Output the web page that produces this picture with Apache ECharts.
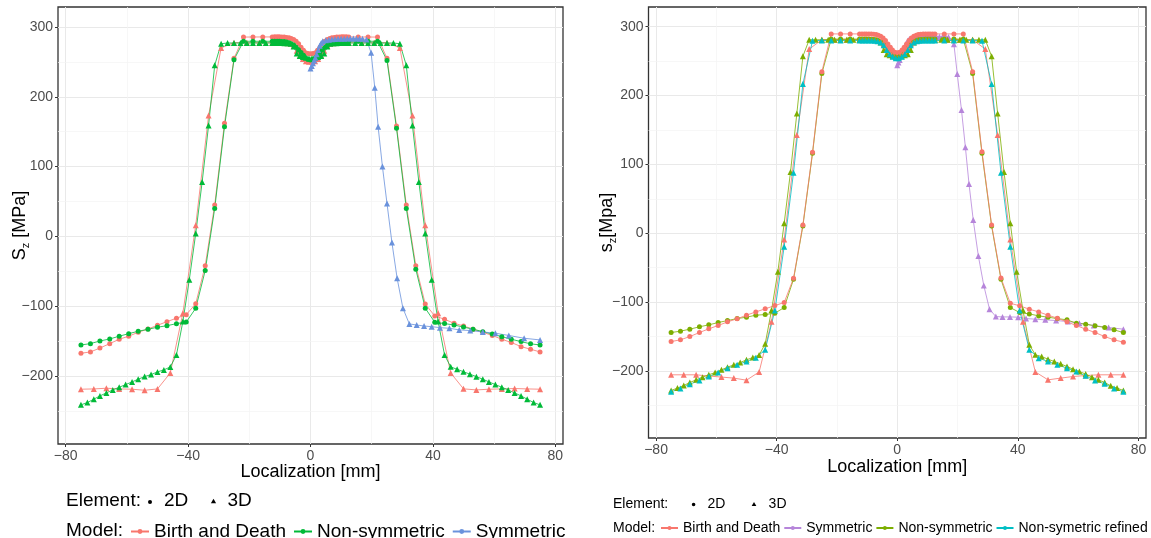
<!DOCTYPE html>
<html><head><meta charset="utf-8">
<script src="https://cdn.jsdelivr.net/npm/echarts@6/dist/echarts.min.js"></script>
<style>html,body{margin:0;padding:0;background:#fff}#c{width:1151px;height:538px}</style>
</head><body><div id="c"></div>
<script>
// ---------- shared x positions ----------
const x2D = [-75,-71.9,-68.8,-65.6,-62.5,-59.4,-56.3,-53.1,-50,-46.9,-43.8,-40.6,-37.5,-34.4,-31.3,-28.1,-25,-21.9,-18.8,-15.6,-12.5,
  -11.7,-10.9,-10.2,-9.4,-8.6,-7.8,-7,-6.3,-5.5,-4.7,-3.9,-3.1,-2.3,-1.6,-0.8,0,0.8,1.6,2.3,3.1,3.9,4.7,5.5,6.3,7,7.8,8.6,9.4,10.2,10.9,11.7,
  12.5,15.6,18.8,21.9,25,28.1,31.3,34.4,37.5,40.6,43.8,46.9,50,53.1,56.3,59.4,62.5,65.6,68.8,71.9,75];
const xBD3D = [-75,-70.8,-66.7,-62.5,-58.3,-54.2,-50,-45.8,-41.7,-37.5,-33.3,-29.2,-25,-20.8,-16.7,-12.5,
  -11.5,-10.5,-9.5,-8.5,-7.5,-6.5,-5.5,-4.5,-3.5,-2.5,-1.5,-0.5,0.5,1.5,2.5,3.5,4.5,5.5,6.5,7.5,8.5,9.5,10.5,11.5,
  12.5,16.7,20.8,25,29.2,33.3,37.5,41.7,45.8,50,54.2,58.3,62.5,66.7,70.8,75];
const xNS3D = [-75,-72.9,-70.8,-68.8,-66.7,-64.6,-62.5,-60.4,-58.3,-56.3,-54.2,-52.1,-50,-47.9,-45.8,-43.8,-41.7,-39.6,-37.5,-35.4,-33.3,-31.3,-29.2,-27.1,-25,-22.9,-20.8,-18.8,-16.7,-14.6,-12.5,
  -11.5,-10.5,-9.5,-8.5,-7.5,-6.5,-5.5,-4.5,-3.5,-2.5,-1.5,-0.5,0.5,1.5,2.5,3.5,4.5,5.5,6.5,7.5,8.5,9.5,10.5,11.5,
  12.5,14.6,16.7,18.8,20.8,22.9,25,27.1,29.2,31.3,33.3,35.4,37.5,39.6,41.7,43.8,45.8,47.9,50,52.1,54.2,56.3,58.3,60.4,62.5,64.6,66.7,68.8,70.8,72.9,75];
const xRef3D = [-75,-71.9,-68.8,-65.6,-62.5,-59.4,-56.3,-53.1,-50,-46.9,-43.8,-40.6,-37.5,-34.4,-31.3,-28.1,-25,-21.9,-18.8,-15.6,-12.5,
  -11.5,-10.5,-9.5,-8.5,-7.5,-6.5,-5.5,-4.5,-3.5,-2.5,-1.5,-0.5,0.5,1.5,2.5,3.5,4.5,5.5,6.5,7.5,8.5,9.5,10.5,11.5,
  12.5,15.6,18.8,21.9,25,28.1,31.3,34.4,37.5,40.6,43.8,46.9,50,53.1,56.3,59.4,62.5,65.6,68.8,71.9,75];
const xSymL = [0,0.4,0.8,1.2,1.6,2,2.5,3,3.5,4,5,6,7,8,9,10,11,12,13,14,15,16,17,18.3,19.8,21,22.1,23.5,25,26.6,28.3,30.2,32.3,34.7,37.1,39.6,42.3,45.4,48.6,52.2,56.3,60.4,64.8,69.8,75];
const xSymR = [0,0.4,0.8,1.2,1.6,2,2.5,3,3.5,4,5,6,7,8,9,10,11,12,13,14,15,16,17,18.8,19.9,21.3,22.6,23.8,25.2,26.9,28.7,30.6,32.7,34.9,37.4,40.1,42.7,45.8,49.1,52.7,56.6,60.4,65.2,70.1,75];

// ---------- left panel values ----------
const L_BD2D = [-167.5,-165.6,-160,-153.7,-147.4,-143.1,-137.4,-132.7,-127.4,-122.2,-117.3,-112.2,-96.5,
  -42,45,162,255,285.5,285.6,285.7,285.7,
  285.8,285.8,285.8,285.7,285.5,285,284.5,283.5,282,279.5,276,271,266.5,263,261.8,261.5,
  261.8,263,266.5,271,276,279.5,282,283.5,284.5,285,285.5,285.7,285.8,285.8,285.8,285.7,
  285.7,285.6,285.5,255,158,45,-42,-97,-114,-118.8,-124.5,-128.4,-133,-137.5,-142,-147.4,-152,-158,-161.7,-165.6];
const L_NS2D = [-155.6,-153.7,-149.9,-147,-143.1,-139.4,-136,-133.1,-130.2,-128,-125.1,-122.8,-103,
  -49,40,157,253,279.5,279.5,279.5,279.5,
  279.5,279.5,279.5,279.3,279,278.5,277.5,276,274,271,267.5,263.5,259.5,256,253.5,252.5,
  253.5,256,259.5,263.5,267.5,271,274,276,277.5,278.5,279,279.3,279.5,279.5,279.5,279.5,
  279.5,279.5,279.5,252,155,40,-47,-103,-123,-125,-127,-130,-133,-136.5,-140,-143.7,-147.4,-150.8,-154,-155.6];
const L_BD3D = [-219,-218.6,-217.6,-218.6,-219,-220.5,-218.6,-195.7,-110,16,173,270,277.5,277.5,277.5,277.5,
  277.5,277.5,277.3,277,276.5,276,273,266,259,254,251,250,
  250,251,254,259,266,273,276,276.5,277,277.3,277.5,277.5,
  277.5,277.5,277.5,277.5,270,173,16,-110,-195.7,-218.5,-220,-219,-218.6,-218,-218.6,-219];
const L_NS3D = [-241.4,-238.1,-233.3,-228.6,-224.3,-220,-216.2,-212.4,-208.5,-204.7,-200.9,-198.1,-194.2,-191.3,-187.1,-170,-122,-62,4,78,159,245,276,277,277,277,277,277,277,277,277,
  277,277,277,276.8,276.5,276,272,262,258.5,257,256,255,
  255,256,257,258.5,262,272,276,276.5,276.8,277,277,277,
  277,277,277,277,277,277,277,277,276,245,159,78,4,-62,-122,-170,-187,-190.5,-194,-197.5,-201,-204.7,-208.5,-212.4,-216.2,-220,-224.3,-228.6,-233.3,-238.1,-241.4];
const L_SYM3D = [240.4,244,248,252,256,261,267,273,277,279.5,
  281,281.8,282.3,282.7,283,283,283.2,283.3,283.3,283.3,283.3,283.2,283,
  282,263,213,157,100,47,-8.7,-60,-103,-125.5,
  -127,-128.5,-129.4,-130.8,-131.7,-134,-135,-137,-138.8,-142,-146,-148.4];

// ---------- right panel values ----------
const R_BD2D = [-157.4,-154.9,-150.1,-144.3,-138.9,-134.1,-128.8,-124.4,-119.1,-114.3,-109.9,-105.1,-100.7,
  -65.4,12,117.5,234.7,289.5,289.5,289.5,289.5,
  289.5,289.5,289.5,289.5,289.3,289,288.5,287.5,286,283.5,280,275,270,266,263,262,
  263,266,270,275,280,283.5,286,287.5,288.5,289,289.3,289.5,289.5,289.5,289.5,289.5,
  289.5,289.5,289.5,234.7,118.5,12,-65,-101.7,-105.5,-110.4,-114.3,-119.1,-123.4,-128.8,-134.1,-139.4,-144.3,-150.1,-154.9,-158.3];
const R_NS2D = [-144.3,-142.3,-139.4,-136,-133.1,-129.8,-126.9,-124,-122,-119.1,-118.2,-116.2,-108,
  -67,10.5,116,232,282,282,282,282,
  282,282,282,282,281.8,281.5,281,280,278.5,276.5,273.5,270,266,262.5,259.5,258.5,
  259.5,262.5,266,270,273.5,276.5,278.5,280,281,281.5,281.8,282,282,282,282,282,
  282,282,282,232,116,10.5,-67,-108,-115.3,-117.2,-120.1,-122,-124,-125.9,-130.7,-132.1,-134.6,-137,-140.4,-144.3];
const R_BD3D = [-205.7,-205.7,-205.7,-207.5,-209,-210.5,-213.5,-201.5,-128.5,-9,142.7,267.5,281,281,281,281,
  281,281,281,281,280.5,280,278.5,275,270,264,259,256.5,
  256.5,259,264,270,275,278.5,280,280.5,281,281,281,281,
  281,281,281,281,267.5,142.7,-9,-128.5,-201.5,-213,-210.5,-208.2,-206.7,-205.7,-205.7,-205.7];
const R_NS3D = [-228.5,-225,-221.3,-216.9,-213,-209.1,-205.7,-202.4,-198.5,-194.6,-191.2,-187.9,-184,-180.6,-177.1,-160.7,-112,-56,14.5,89,174,257,281,281,281,281,281,281,281,281,281,
  281,281,281,281,280.5,280,277,266,260,258.5,257,256,
  256,257,258.5,260,266,277,280,280.5,281,281,281,281,
  281,281,281,281,281,281,281,281,281,257,174,89,14.5,-56,-112,-162,-176.7,-179.2,-183,-186.4,-189.8,-193.7,-197.5,-200.9,-204.7,-209.1,-213,-216.9,-221.7,-225,-228.5];
const R_REF3D = [-230.4,-225.6,-219.3,-214,-208.2,-202.4,-196,-191.2,-186.4,-181,-169.4,-112.4,-19.5,88,216.7,279.7,280,280,280,280,280,
  280,280,280,280,279.5,279,277,273,266,260,256.5,254,
  254,256.5,260,266,273,277,279,279.5,280,280,280,280,
  280,280,280,280,280,279.7,216.7,88,-19.5,-112.4,-169.4,-181.5,-186.4,-191.2,-196,-201,-207.2,-214,-218.8,-225.6,-230.4];
const R_SYM3D = [244,248,251.6,257,262,267,272,276,279.5,282,
  283.5,284.5,285,285.5,285.5,285.5,285.5,285.5,285.5,285.5,285.5,285.3,285,
  274.4,231.3,179,124.9,71.6,19.3,-33,-76,-110.4,-121.1,
  -121.6,-121.6,-122,-124,-124.9,-125.9,-126.9,-128.3,-130.7,-134.1,-137,-139.4];

// ---------- axes / legend labels ----------
const xTicks = [-80,-40,0,40,80];
const yTicks = [-200,-100,0,100,200,300];
const xMinor = [-60,-20,20,60];
const yMinor = [-250,-150,-50,50,150,250];
const modelsL = ['Birth and Death','Non-symmetric','Symmetric'];
const modelsR = ['Birth and Death','Symmetric','Non-symmetric','Non-symetric refined'];

const FONT = '"Liberation Sans", Arial, Helvetica, sans-serif';
const pair = (xs, ys) => xs.map((x, i) => [x, ys[i]]);
const fmt = v => (v < 0 ? '\u2212' + Math.abs(v) : String(v));

function gridMarks() {
  const major = {color: '#e9e9e9', width: 1};
  const minor = {color: '#f3f3f3', width: 0.7};
  const d = [];
  xTicks.forEach(v => d.push({xAxis: v, lineStyle: major}));
  yTicks.forEach(v => d.push({yAxis: v, lineStyle: major}));
  xMinor.forEach(v => d.push({xAxis: v, lineStyle: minor}));
  yMinor.forEach(v => d.push({yAxis: v, lineStyle: minor}));
  return {silent: true, symbol: 'none', z: 1, animation: false, label: {show: false},
          emphasis: {disabled: true}, lineStyle: {type: 'solid'}, data: d};
}

function ser(name, gi, data, color, symbol, size, marks) {
  const s = {
    type: 'line', name: name, xAxisIndex: gi, yAxisIndex: gi, data: data,
    symbol: symbol, symbolSize: size, showSymbol: true, showAllSymbol: true,
    lineStyle: {color: color, width: 0.8}, itemStyle: {color: color, borderWidth: 0},
    emphasis: {disabled: true}, animation: false, z: 2
  };
  if (marks) s.markLine = gridMarks();
  return s;
}

function xAx(gi, gap) {
  return {
    gridIndex: gi, type: 'value', min: -82.5, max: 82.5,
    splitLine: {show: false}, axisLine: {show: false, onZero: false},
    axisTick: {show: true, length: 3, customValues: xTicks, lineStyle: {color: '#333', width: 1}},
    axisLabel: {customValues: xTicks, formatter: fmt, color: '#4d4d4d', fontSize: 14, margin: 5, fontFamily: FONT},
    name: 'Localization [mm]', nameLocation: 'middle', nameGap: gap, nameMoveOverlap: false,
    nameTextStyle: {fontSize: 18, color: '#000', fontFamily: FONT}
  };
}
function yAx(gi, name, gap) {
  return {
    gridIndex: gi, type: 'value', min: -297.5, max: 328.6,
    splitLine: {show: false}, axisLine: {show: false, onZero: false},
    axisTick: {show: true, length: 3, customValues: yTicks, lineStyle: {color: '#333', width: 1}},
    axisLabel: {customValues: yTicks, formatter: fmt, color: '#4d4d4d', fontSize: 14, margin: 5, fontFamily: FONT},
    name: name, nameLocation: 'middle', nameGap: gap, nameMoveOverlap: false,
    nameTextStyle: {color: '#000', fontFamily: FONT,
      rich: {s: {fontSize: 18, fontFamily: FONT, color: '#000', lineHeight: 22},
             z: {fontSize: 11, fontFamily: FONT, color: '#000', lineHeight: 11, verticalAlign: 'bottom'}}}
  };
}

const C = {red: '#F8766D', green: '#00BA38', blue: '#6A92DC', purple: '#B685DA', olive: '#7CAE00', cyan: '#00BFC4'};

const series = [
  ser('L:Birth and Death', 0, pair(x2D, L_BD2D), C.red, 'circle', 5, true),
  ser('L:Birth and Death', 0, pair(xBD3D, L_BD3D), C.red, 'triangle', 6),
  ser('L:Non-symmetric', 0, pair(x2D, L_NS2D), C.green, 'circle', 5),
  ser('L:Non-symmetric', 0, pair(xNS3D, L_NS3D), C.green, 'triangle', 6),
  ser('L:Symmetric', 0, [], C.blue, 'circle', 5),
  ser('L:Symmetric', 0, pair(xSymL, L_SYM3D), C.blue, 'triangle', 6),

  ser('R:Birth and Death', 1, [], C.red, 'circle', 5, true),
  ser('R:Symmetric', 1, [], C.purple, 'circle', 5),
  ser('R:Symmetric', 1, pair(xSymR, R_SYM3D), C.purple, 'triangle', 6),
  ser('R:Non-symmetric', 1, pair(x2D, R_NS2D), C.olive, 'circle', 5),
  ser('R:Birth and Death', 1, pair(x2D, R_BD2D), C.red, 'circle', 5),
  ser('R:Birth and Death', 1, pair(xBD3D, R_BD3D), C.red, 'triangle', 6),
  ser('R:Non-symmetric', 1, pair(xNS3D, R_NS3D), C.olive, 'triangle', 6),
  ser('R:Non-symetric refined', 1, [], C.cyan, 'circle', 5),
  ser('R:Non-symetric refined', 1, pair(xRef3D, R_REF3D), C.cyan, 'triangle', 6)
];

function txt(x, y, t, size) {
  return {type: 'text', x: x, y: y, silent: true,
          style: {text: t, font: size + 'px ' + FONT, fill: '#000', verticalAlign: 'middle', align: 'left'}};
}
function tri(cx, cy, h) {
  return {type: 'polygon', silent: true,
          shape: {points: [[cx, cy - h / 2], [cx + h * 0.58, cy + h / 2], [cx - h * 0.58, cy + h / 2]]},
          style: {fill: '#000'}};
}

const option = {
  backgroundColor: '#ffffff',
  textStyle: {fontFamily: FONT},
  animation: false,
  grid: [
    {left: 58, top: 7, width: 505, height: 437, show: true, borderColor: '#333333', borderWidth: 1.3, backgroundColor: '#ffffff', containLabel: false},
    {left: 648.5, top: 7, width: 497.5, height: 431, show: true, borderColor: '#333333', borderWidth: 1.3, backgroundColor: '#ffffff', containLabel: false}
  ],
  xAxis: [xAx(0, 19), xAx(1, 20)],
  yAxis: [yAx(0, '{s|S}{z|z}{s| [MPa]}', 27), yAx(1, '{s|s}{z|z}{s|[Mpa]}', 30)],
  legend: [
    {left: 130, top: 522, padding: 0, itemWidth: 18, itemHeight: 6, itemGap: 7, selectedMode: false,
     data: modelsL.map(m => 'L:' + m), formatter: n => n.slice(2),
     textStyle: {fontSize: 19, color: '#000', fontFamily: FONT}},
    {left: 660, top: 521, padding: 0, itemWidth: 17, itemHeight: 5, itemGap: 3, selectedMode: false,
     data: modelsR.map(m => 'R:' + m), formatter: n => n.slice(2),
     textStyle: {fontSize: 14, color: '#000', fontFamily: FONT}}
  ],
  graphic: [
    txt(66, 501, 'Element:', 19),
    {type: 'circle', silent: true, shape: {cx: 150, cy: 502, r: 2}, style: {fill: '#000'}},
    txt(164, 501, '2D', 19),
    tri(213.5, 501, 4.5),
    txt(227.5, 501, '3D', 19),
    txt(66, 531, 'Model:', 19),

    txt(613, 504, 'Element:', 14),
    {type: 'circle', silent: true, shape: {cx: 693.6, cy: 504.5, r: 1.8}, style: {fill: '#000'}},
    txt(707.5, 504, '2D', 14),
    tri(754, 504, 4),
    txt(768.6, 504, '3D', 14),
    txt(613, 528, 'Model:', 14)
  ],
  series: series
};

const chart = echarts.init(document.getElementById('c'), null, {renderer: 'canvas'});
chart.setOption(option);
</script>
</body></html>
